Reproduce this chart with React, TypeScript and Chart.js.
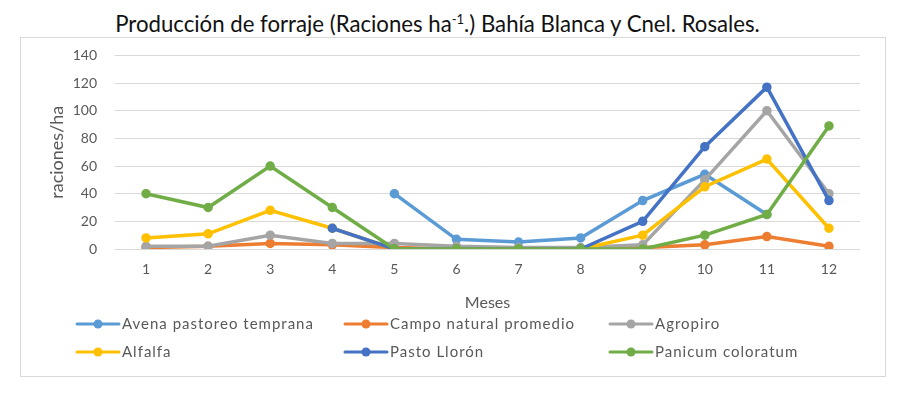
import React, { useEffect, useRef } from "react";
import { Chart, registerables } from "chart.js";

Chart.register(...registerables);

const months = ["1", "2", "3", "4", "5", "6", "7", "8", "9", "10", "11", "12"];

const seriesNames = [
  "Avena pastoreo temprana",
  "Campo natural promedio",
  "Agropiro",
  "Alfalfa",
  "Pasto Llorón",
  "Panicum coloratum",
];

const avena = [null, null, null, null, 40, 7, 5, 8, 35, 54, 25, null];
const campoNatural = [1, 2, 4, 3, 1, 0, 0, 0, 1, 3, 9, 2];
const agropiro = [2, 2, 10, 4, 4, 2, 1, 1, 3, 50, 100, 40];
const alfalfa = [8, 11, 28, 15, 0, 0, 0, 0, 10, 45, 65, 15];
const pastoLloron = [null, null, null, 15, 0, 0, 0, 0, 20, 74, 117, 35];
const panicum = [40, 30, 60, 30, 0, 0, 0, 0, 0, 10, 25, 89];

const colors = ["#5B9BD5", "#ED7D31", "#A5A5A5", "#FFC000", "#4472C4", "#70AD47"];

const yTicks = [0, 20, 40, 60, 80, 100, 120, 140];

const FONT = "Lato, 'Open Sans', 'Noto Sans', sans-serif";

const gridLegend = {
  id: "gridLegend",
  afterDraw(chart: any, _args: any, opts: any) {
    const ctx = chart.ctx;
    const cols: number[] = opts.cols;
    const rows: number[] = opts.rows;
    ctx.save();
    chart.data.datasets.forEach((ds: any, i: number) => {
      const x = cols[i % 3];
      const y = rows[Math.floor(i / 3)];
      ctx.strokeStyle = ds.borderColor;
      ctx.lineWidth = 3;
      ctx.lineCap = "round";
      ctx.beginPath();
      ctx.moveTo(x, y);
      ctx.lineTo(x + 42, y);
      ctx.stroke();
      ctx.fillStyle = ds.borderColor;
      ctx.beginPath();
      ctx.arc(x + 21, y, 4.5, 0, Math.PI * 2);
      ctx.fill();
      ctx.fillStyle = "#595959";
      ctx.font = `15px ${FONT}`;
      (ctx as any).letterSpacing = "1px";
      ctx.textBaseline = "middle";
      ctx.textAlign = "left";
      ctx.fillText(ds.label, x + 45, y);
      (ctx as any).letterSpacing = "0px";
    });
    ctx.restore();
  },
};

export default function App() {
  const ref = useRef<HTMLCanvasElement | null>(null);

  useEffect(() => {
    if (!ref.current) return;
    const data = [avena, campoNatural, agropiro, alfalfa, pastoLloron, panicum];
    const chart = new Chart(ref.current, {
      type: "line",
      data: {
        labels: months,
        datasets: data.map((d, i) => ({
          label: seriesNames[i],
          data: d,
          borderColor: colors[i],
          backgroundColor: colors[i],
          pointBackgroundColor: colors[i],
          pointBorderColor: colors[i],
          pointRadius: 4,
          pointBorderWidth: 1.5,
          borderWidth: 3.5,
          tension: 0,
          order: 6 - i,
        })),
      },
      options: {
        animation: false,
        responsive: true,
        maintainAspectRatio: false,
        layout: { padding: { left: 25, right: 25, top: 8, bottom: 64 } },
        plugins: {
          legend: { display: false },
          tooltip: { enabled: false },
          gridLegend: { cols: [56, 324, 589], rows: [295, 323] },
        } as any,
        scales: {
          x: {
            type: "category",
            offset: true,
            grid: { display: false, drawTicks: false },
            border: { display: false },
            ticks: { color: "#595959", font: { family: FONT, size: 14 }, padding: 12 },
            title: {
              display: true,
              text: "Meses",
              color: "#595959",
              font: { family: FONT, size: 16 },
              padding: 0,
            },
            afterFit: (s: any) => {
              s.height = 63;
            },
          },
          y: {
            min: 0,
            max: 140,
            grid: { color: "#D9D9D9", lineWidth: 1, drawTicks: false },
            border: { display: false },
            afterBuildTicks: (s: any) => {
              s.ticks = yTicks.map((v) => ({ value: v }));
            },
            ticks: { color: "#595959", font: { family: FONT, size: 14 }, padding: 18 },
            title: {
              display: true,
              text: "raciones/ha",
              color: "#595959",
              font: { family: FONT, size: 18 },
              padding: 0,
            },
            afterFit: (s: any) => {
              s.width = 69;
            },
          },
        },
      },
      plugins: [gridLegend],
    });
    return () => chart.destroy();
  }, []);

  return (
    <div style={{ position: "fixed", left: 0, top: 0, width: 907, height: 395, background: "#fff" }}>
      <div
        style={{
          position: "absolute",
          left: 0,
          top: 9,
          width: 875,
          textAlign: "center",
          fontFamily: FONT,
          fontSize: 22.2,
          fontWeight: 400,
          lineHeight: "30px",
          color: "#111",
        }}
      >
        Producción de forraje (Raciones ha<sup style={{ fontSize: 13, lineHeight: 0 }}>-1</sup>.) Bahía Blanca y Cnel. Rosales.
      </div>
      <div
        style={{
          position: "absolute",
          left: 20,
          top: 37,
          width: 864,
          height: 338,
          border: "1px solid #D9D9D9",
        }}
      />
      <div style={{ position: "absolute", left: 21, top: 29, width: 864, height: 347 }}>
        <canvas ref={ref} />
      </div>
    </div>
  );
}
